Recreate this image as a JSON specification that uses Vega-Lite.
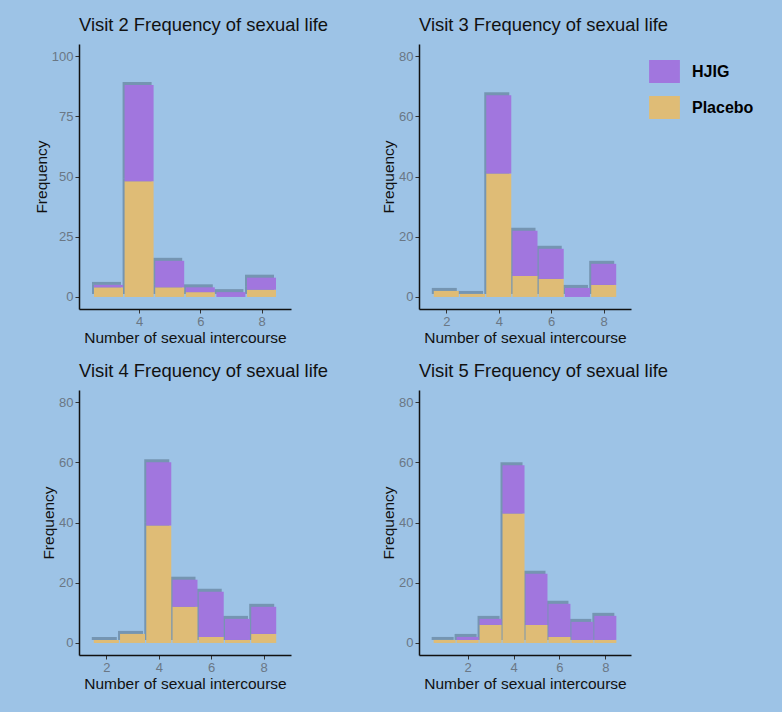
{
  "$schema": "https://vega.github.io/schema/vega-lite/v6.json",
  "background": "#9DC3E6",
  "padding": {"left": 34, "top": 15, "right": 40, "bottom": 30},
  "datasets": {
    "counts": [
      {"visit": "Visit 2", "n": 3, "group": "Placebo", "count": 4},
      {"visit": "Visit 2", "n": 3, "group": "HJIG", "count": 1},
      {"visit": "Visit 2", "n": 4, "group": "Placebo", "count": 48},
      {"visit": "Visit 2", "n": 4, "group": "HJIG", "count": 40},
      {"visit": "Visit 2", "n": 5, "group": "Placebo", "count": 4},
      {"visit": "Visit 2", "n": 5, "group": "HJIG", "count": 11},
      {"visit": "Visit 2", "n": 6, "group": "Placebo", "count": 2},
      {"visit": "Visit 2", "n": 6, "group": "HJIG", "count": 2},
      {"visit": "Visit 2", "n": 7, "group": "Placebo", "count": 0},
      {"visit": "Visit 2", "n": 7, "group": "HJIG", "count": 2},
      {"visit": "Visit 2", "n": 8, "group": "Placebo", "count": 3},
      {"visit": "Visit 2", "n": 8, "group": "HJIG", "count": 5},
      {"visit": "Visit 3", "n": 2, "group": "Placebo", "count": 2},
      {"visit": "Visit 3", "n": 2, "group": "HJIG", "count": 0},
      {"visit": "Visit 3", "n": 3, "group": "Placebo", "count": 1},
      {"visit": "Visit 3", "n": 3, "group": "HJIG", "count": 0},
      {"visit": "Visit 3", "n": 4, "group": "Placebo", "count": 41},
      {"visit": "Visit 3", "n": 4, "group": "HJIG", "count": 26},
      {"visit": "Visit 3", "n": 5, "group": "Placebo", "count": 7},
      {"visit": "Visit 3", "n": 5, "group": "HJIG", "count": 15},
      {"visit": "Visit 3", "n": 6, "group": "Placebo", "count": 6},
      {"visit": "Visit 3", "n": 6, "group": "HJIG", "count": 10},
      {"visit": "Visit 3", "n": 7, "group": "Placebo", "count": 0},
      {"visit": "Visit 3", "n": 7, "group": "HJIG", "count": 3},
      {"visit": "Visit 3", "n": 8, "group": "Placebo", "count": 4},
      {"visit": "Visit 3", "n": 8, "group": "HJIG", "count": 7},
      {"visit": "Visit 4", "n": 2, "group": "Placebo", "count": 1},
      {"visit": "Visit 4", "n": 2, "group": "HJIG", "count": 0},
      {"visit": "Visit 4", "n": 3, "group": "Placebo", "count": 3},
      {"visit": "Visit 4", "n": 3, "group": "HJIG", "count": 0},
      {"visit": "Visit 4", "n": 4, "group": "Placebo", "count": 39},
      {"visit": "Visit 4", "n": 4, "group": "HJIG", "count": 21},
      {"visit": "Visit 4", "n": 5, "group": "Placebo", "count": 12},
      {"visit": "Visit 4", "n": 5, "group": "HJIG", "count": 9},
      {"visit": "Visit 4", "n": 6, "group": "Placebo", "count": 2},
      {"visit": "Visit 4", "n": 6, "group": "HJIG", "count": 15},
      {"visit": "Visit 4", "n": 7, "group": "Placebo", "count": 1},
      {"visit": "Visit 4", "n": 7, "group": "HJIG", "count": 7},
      {"visit": "Visit 4", "n": 8, "group": "Placebo", "count": 3},
      {"visit": "Visit 4", "n": 8, "group": "HJIG", "count": 9},
      {"visit": "Visit 5", "n": 1, "group": "Placebo", "count": 1},
      {"visit": "Visit 5", "n": 1, "group": "HJIG", "count": 0},
      {"visit": "Visit 5", "n": 2, "group": "Placebo", "count": 1},
      {"visit": "Visit 5", "n": 2, "group": "HJIG", "count": 1},
      {"visit": "Visit 5", "n": 3, "group": "Placebo", "count": 6},
      {"visit": "Visit 5", "n": 3, "group": "HJIG", "count": 2},
      {"visit": "Visit 5", "n": 4, "group": "Placebo", "count": 43},
      {"visit": "Visit 5", "n": 4, "group": "HJIG", "count": 16},
      {"visit": "Visit 5", "n": 5, "group": "Placebo", "count": 6},
      {"visit": "Visit 5", "n": 5, "group": "HJIG", "count": 17},
      {"visit": "Visit 5", "n": 6, "group": "Placebo", "count": 2},
      {"visit": "Visit 5", "n": 6, "group": "HJIG", "count": 11},
      {"visit": "Visit 5", "n": 7, "group": "Placebo", "count": 1},
      {"visit": "Visit 5", "n": 7, "group": "HJIG", "count": 6},
      {"visit": "Visit 5", "n": 8, "group": "Placebo", "count": 1},
      {"visit": "Visit 5", "n": 8, "group": "HJIG", "count": 8}
    ]
  },
  "data": {"name": "counts"},
  "columns": 2,
  "spacing": {"row": 15, "column": 52},
  "concat": [
    {
      "title": "Visit 2 Frequency of sexual life",
      "width": 212,
      "height": 265,
      "transform": [{"filter": "datum.visit == 'Visit 2'"}],
      "layer": [
        {
          "mark": {"type": "bar", "width": 29, "color": "#3A4F63", "opacity": 0.4, "xOffset": -2, "yOffset": -3},
          "encoding": {
            "x": {"field": "n", "type": "quantitative", "scale": {"domain": [2.2, 8.8], "nice": false, "zero": false}},
            "y": {"field": "count", "type": "quantitative", "stack": "zero"},
            "detail": {"field": "group"},
            "order": {"field": "group", "sort": "descending"}
          }
        },
        {
          "mark": {"type": "bar", "width": 29},
          "encoding": {
            "x": {"field": "n", "type": "quantitative", "title": "Number of sexual intercourse", "scale": {"domain": [2.2, 8.8], "nice": false, "zero": false}, "axis": {"values": [4, 6, 8]}},
            "y": {"field": "count", "type": "quantitative", "stack": "zero", "title": "Frequency", "scale": {"domain": [-5, 105], "nice": false}, "axis": {"values": [0, 25, 50, 75, 100]}},
            "color": {"field": "group", "type": "nominal", "title": null, "scale": {"domain": ["HJIG", "Placebo"], "range": ["#A176DE", "#DFBC76"]},
              "legend": {"orient": "none", "legendX": 574, "legendY": 16, "symbolType": "M-1.34,-1H1.34V1H-1.34Z", "symbolSize": 529, "symbolStrokeWidth": 0, "symbolOpacity": 1, "labelFontSize": 16, "labelFontWeight": 900, "labelColor": "#000000", "labelOffset": 16, "rowPadding": 13}},
            "order": {"field": "group", "sort": "descending"}
          }
        }
      ]
    },
    {
      "title": "Visit 3 Frequency of sexual life",
      "width": 212,
      "height": 265,
      "transform": [{"filter": "datum.visit == 'Visit 3'"}],
      "layer": [
        {
          "mark": {"type": "bar", "width": 25, "color": "#3A4F63", "opacity": 0.4, "xOffset": -2, "yOffset": -3},
          "encoding": {
            "x": {"field": "n", "type": "quantitative", "scale": {"domain": [1.15, 8.85], "nice": false, "zero": false}},
            "y": {"field": "count", "type": "quantitative", "stack": "zero"},
            "detail": {"field": "group"},
            "order": {"field": "group", "sort": "descending"}
          }
        },
        {
          "mark": {"type": "bar", "width": 25},
          "encoding": {
            "x": {"field": "n", "type": "quantitative", "title": "Number of sexual intercourse", "scale": {"domain": [1.15, 8.85], "nice": false, "zero": false}, "axis": {"values": [2, 4, 6, 8]}},
            "y": {"field": "count", "type": "quantitative", "stack": "zero", "title": "Frequency", "scale": {"domain": [-4, 84], "nice": false}, "axis": {"values": [0, 20, 40, 60, 80]}},
            "color": {"field": "group", "type": "nominal", "title": null, "scale": {"domain": ["HJIG", "Placebo"], "range": ["#A176DE", "#DFBC76"]}},
            "order": {"field": "group", "sort": "descending"}
          }
        }
      ]
    },
    {
      "title": "Visit 4 Frequency of sexual life",
      "width": 212,
      "height": 265,
      "transform": [{"filter": "datum.visit == 'Visit 4'"}],
      "layer": [
        {
          "mark": {"type": "bar", "width": 25, "color": "#3A4F63", "opacity": 0.4, "xOffset": -2, "yOffset": -3},
          "encoding": {
            "x": {"field": "n", "type": "quantitative", "scale": {"domain": [1.15, 8.85], "nice": false, "zero": false}},
            "y": {"field": "count", "type": "quantitative", "stack": "zero"},
            "detail": {"field": "group"},
            "order": {"field": "group", "sort": "descending"}
          }
        },
        {
          "mark": {"type": "bar", "width": 25},
          "encoding": {
            "x": {"field": "n", "type": "quantitative", "title": "Number of sexual intercourse", "scale": {"domain": [1.15, 8.85], "nice": false, "zero": false}, "axis": {"values": [2, 4, 6, 8]}},
            "y": {"field": "count", "type": "quantitative", "stack": "zero", "title": "Frequency", "scale": {"domain": [-4, 84], "nice": false}, "axis": {"values": [0, 20, 40, 60, 80]}},
            "color": {"field": "group", "type": "nominal", "title": null, "scale": {"domain": ["HJIG", "Placebo"], "range": ["#A176DE", "#DFBC76"]}},
            "order": {"field": "group", "sort": "descending"}
          }
        }
      ]
    },
    {
      "title": "Visit 5 Frequency of sexual life",
      "width": 212,
      "height": 265,
      "transform": [{"filter": "datum.visit == 'Visit 5'"}],
      "layer": [
        {
          "mark": {"type": "bar", "width": 22, "color": "#3A4F63", "opacity": 0.4, "xOffset": -2, "yOffset": -3},
          "encoding": {
            "x": {"field": "n", "type": "quantitative", "scale": {"domain": [0.1, 8.9], "nice": false, "zero": false}},
            "y": {"field": "count", "type": "quantitative", "stack": "zero"},
            "detail": {"field": "group"},
            "order": {"field": "group", "sort": "descending"}
          }
        },
        {
          "mark": {"type": "bar", "width": 22},
          "encoding": {
            "x": {"field": "n", "type": "quantitative", "title": "Number of sexual intercourse", "scale": {"domain": [0.1, 8.9], "nice": false, "zero": false}, "axis": {"values": [2, 4, 6, 8]}},
            "y": {"field": "count", "type": "quantitative", "stack": "zero", "title": "Frequency", "scale": {"domain": [-4, 84], "nice": false}, "axis": {"values": [0, 20, 40, 60, 80]}},
            "color": {"field": "group", "type": "nominal", "title": null, "scale": {"domain": ["HJIG", "Placebo"], "range": ["#A176DE", "#DFBC76"]}},
            "order": {"field": "group", "sort": "descending"}
          }
        }
      ]
    }
  ],
  "resolve": {"scale": {"x": "independent", "y": "independent", "color": "shared"}},
  "config": {
    "font": "Liberation Sans",
    "view": {"stroke": null},
    "title": {"anchor": "start", "frame": "group", "fontSize": 18.4, "fontWeight": "normal", "color": "#111111", "offset": 10},
    "axis": {
      "grid": false,
      "domainColor": "#111111",
      "domainWidth": 1.5,
      "tickColor": "#333333",
      "tickSize": 4,
      "labelColor": "#6A7785",
      "labelFontSize": 13,
      "titleFontSize": 15.5,
      "titleFontWeight": "normal",
      "titleColor": "#111111",
      "titlePadding": 2
    }
  }
}
